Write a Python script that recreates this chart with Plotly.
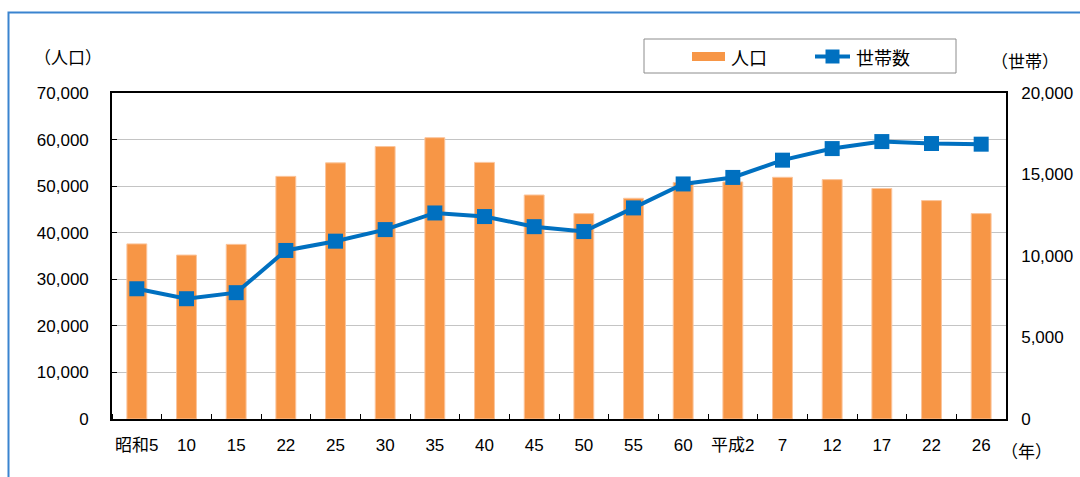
import plotly.graph_objects as go

# Census years (Showa 5 .. Heisei 26)
years = ["昭和5", "10", "15", "22", "25", "30", "35", "40", "45", "50",
         "55", "60", "平成2", "7", "12", "17", "22", "26"]
population = [37600, 35200, 37500, 52100, 55000, 58500, 60400, 55100, 48100,
              44100, 47400, 50800, 50900, 51900, 51400, 49500, 46900, 44100]
households = [7990, 7380, 7750, 10340, 10910, 11620, 12640, 12420, 11800,
              11500, 12950, 14420, 14820, 15880, 16590, 17020, 16900, 16860]
pop_ticks = list(range(0, 70001, 10000))
hh_ticks = list(range(0, 20001, 5000))

W, H = 1080, 477
L, R, T, B = 112, 1006, 93, 419  # plot area in pixels

def px(x):
    return (x - L) / (R - L)

def py(y):
    return (B - y) / (B - T)

NUM_FONT = "Liberation Sans, Arial, Noto Sans CJK JP"
CJK_FONT = "Noto Sans CJK JP, Liberation Sans"
ORANGE = "#F79646"
BLUE = "#0070C0"

xs = list(range(len(years)))

fig = go.Figure()
fig.add_trace(go.Bar(
    x=xs, y=population, name="人口", width=0.4,
    marker=dict(color=ORANGE, line=dict(color="#FBC59C", width=1)),
    yaxis="y",
))
fig.add_trace(go.Scatter(
    x=xs, y=households, name="世帯数", mode="lines+markers",
    line=dict(color=BLUE, width=4),
    marker=dict(symbol="square", size=15, color=BLUE),
    yaxis="y2",
))

fig.update_layout(
    width=W, height=H, autosize=False,
    margin=dict(l=L, r=W - R, t=T, b=H - B, pad=0),
    paper_bgcolor="white", plot_bgcolor="white",
    showlegend=False,
    font=dict(family=NUM_FONT, size=17, color="#000000"),
    xaxis=dict(
        range=[-0.5, len(years) - 0.5], automargin=False,
        tickvals=xs, ticktext=years, ticks="",
        tickfont=dict(family=NUM_FONT, size=17),
        ticklabelstandoff=10,
        showline=True, linecolor="#000000", linewidth=1.6, mirror=True,
        showgrid=False, zeroline=False,
        minor=dict(tick0=-0.5, dtick=1, ticks="inside", ticklen=5,
                   tickcolor="#000000", tickwidth=1, showgrid=False),
    ),
    yaxis=dict(
        range=[0, 70000], tickvals=pop_ticks, tickformat=",d", automargin=False,
        ticks="inside", ticklen=5, tickcolor="#000000", tickwidth=1,
        ticklabelstandoff=18,
        showline=True, linecolor="#000000", linewidth=1.6,
        showgrid=True, gridcolor="#C4C4C4", gridwidth=1.4, zeroline=False,
    ),
    yaxis2=dict(
        range=[0, 20000], tickvals=hh_ticks, tickformat=",d", automargin=False,
        overlaying="y", side="right", ticks="",
        ticklabelstandoff=10,
        showline=True, linecolor="#000000", linewidth=1.6,
        showgrid=False, zeroline=False,
    ),
)

shapes = []
# outer blue frame
shapes.append(dict(type="rect", xref="paper", yref="paper",
                   x0=px(8.5), x1=px(W + 20), y0=py(H + 20), y1=py(12.5),
                   line=dict(color="#3A84CF", width=2), fillcolor="rgba(0,0,0,0)",
                   layer="above"))
# legend box
shapes.append(dict(type="rect", xref="paper", yref="paper",
                   x0=px(644), x1=px(956), y0=py(73), y1=py(39),
                   line=dict(color="#8C8C8C", width=1), fillcolor="white"))
# legend swatch: population bars
shapes.append(dict(type="rect", xref="paper", yref="paper",
                   x0=px(692), x1=px(725), y0=py(61), y1=py(52),
                   line=dict(width=0), fillcolor=ORANGE))
# legend swatch: households line with square marker
shapes.append(dict(type="line", xref="paper", yref="paper",
                   x0=px(815), x1=px(850), y0=py(56.5), y1=py(56.5),
                   line=dict(color=BLUE, width=4)))
shapes.append(dict(type="rect", xref="paper", yref="paper",
                   x0=px(825.5), x1=px(839.5), y0=py(63.5), y1=py(49.5),
                   line=dict(width=0), fillcolor=BLUE))
fig.update_layout(shapes=shapes)

annotations = [
    dict(text="人口", x=px(729), y=py(56.5), xanchor="left", yanchor="middle",
         font=dict(family=CJK_FONT, size=18)),
    dict(text="世帯数", x=px(854), y=py(56.5), xanchor="left", yanchor="middle",
         font=dict(family=CJK_FONT, size=18)),
    dict(text="（人口）", x=px(68), y=py(57), xanchor="center", yanchor="middle",
         font=dict(family=CJK_FONT, size=17)),
    dict(text="（世帯）", x=px(1025), y=py(61), xanchor="center", yanchor="middle",
         font=dict(family=CJK_FONT, size=17)),
    dict(text="（年）", x=px(1026), y=py(450), xanchor="center", yanchor="middle",
         font=dict(family=CJK_FONT, size=17)),
]
for a in annotations:
    a.update(xref="paper", yref="paper", showarrow=False)
fig.update_layout(annotations=annotations)

fig.write_html("out.html")
